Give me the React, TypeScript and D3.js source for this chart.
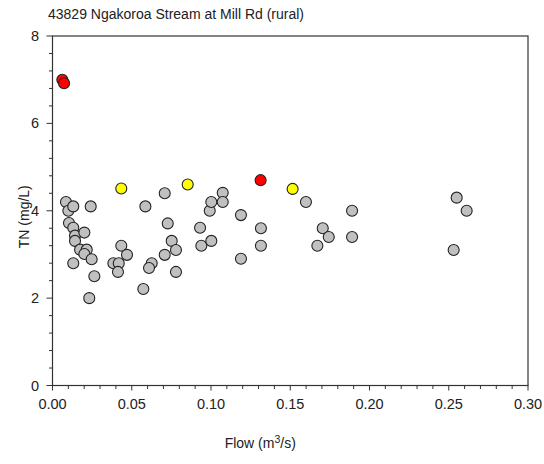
import React from "react";
import * as d3 from "d3";

const TITLE = "43829 Ngakoroa Stream at Mill Rd (rural)";
const xTicks = [0, 0.05, 0.1, 0.15, 0.2, 0.25, 0.3];
const yTicks = [0, 2, 4, 6, 8];

const grayFlow = [0.0085, 0.0100, 0.0131, 0.0241, 0.0104, 0.0131, 0.0142, 0.0142, 0.0201, 0.0174, 0.0216, 0.0201, 0.0247, 0.0131, 0.0264, 0.0232, 0.0434, 0.0470, 0.0384, 0.0418, 0.0413, 0.0586, 0.0708, 0.0727, 0.0752, 0.0779, 0.0708, 0.0626, 0.0609, 0.0779, 0.0573, 0.0931, 0.0939, 0.1002, 0.0992, 0.1002, 0.1074, 0.1074, 0.1189, 0.1315, 0.1315, 0.1189, 0.1599, 0.1705, 0.1743, 0.1671, 0.1890, 0.1890, 0.2550, 0.2613, 0.2531];
const grayTN = [4.20, 4.00, 4.10, 4.10, 3.72, 3.61, 3.43, 3.31, 3.50, 3.11, 3.11, 3.01, 2.89, 2.80, 2.50, 2.00, 3.20, 2.99, 2.80, 2.80, 2.60, 4.10, 4.40, 3.71, 3.31, 3.10, 2.99, 2.80, 2.69, 2.60, 2.21, 3.61, 3.20, 3.31, 4.00, 4.20, 4.41, 4.20, 3.90, 3.60, 3.20, 2.90, 4.20, 3.60, 3.40, 3.20, 4.00, 3.40, 4.30, 4.00, 3.10];
const yellowFlow = [0.0434, 0.0853, 0.1515];
const yellowTN = [4.51, 4.60, 4.50];
const redFlow = [0.0062, 0.0073, 0.1313];
const redTN = [7.00, 6.92, 4.70];

const W = 544, H = 464;
const L = 52.5, R = 528, T = 36, B = 385.5;
const FONT = "'Liberation Sans', Arial, sans-serif";

export default function App() {
  const x = d3.scaleLinear().domain([0, 0.3]).range([L, R]);
  const y = d3.scaleLinear().domain([0, 8]).range([B, T]);
  const xMinor = d3.range(0, 31).map((i) => i * 0.01);
  const yMinor = d3.range(0, 21).map((i) => i * 0.4);
  const pts = (fx: number[], fy: number[], fill: string, key: string) =>
    fx.map((v, i) => (
      <circle key={key + i} cx={x(v)} cy={y(fy[i])} r={5.5} fill={fill} stroke="#222" strokeWidth={1.1} />
    ));
  return (
    <svg width={W} height={H} style={{ position: "absolute", left: 0, top: 0 }} fontFamily={FONT}>
      <rect width={W} height={H} fill="#fff" />
      <text x={48} y={19} fontSize={14} fill="#222">{TITLE}</text>
      <rect x={L} y={T} width={R - L} height={B - T} fill="none" stroke="#333" strokeWidth={1.2} />
      {xMinor.map((v, i) => (
        <line key={"xm" + i} x1={x(v)} x2={x(v)} y1={B} y2={B + (i % 5 === 0 ? 5 : 3.5)} stroke="#333" strokeWidth={1} />
      ))}
      {yMinor.map((v, i) => (
        <line key={"ym" + i} y1={y(v)} y2={y(v)} x1={L} x2={L - (i % 5 === 0 ? 6 : 3.5)} stroke="#333" strokeWidth={1} />
      ))}
      {xTicks.map((v) => (
        <text key={"xt" + v} x={x(v)} y={409} textAnchor="middle" fontSize={14.5} fill="#222">{v.toFixed(2)}</text>
      ))}
      {yTicks.map((v) => (
        <text key={"yt" + v} x={39} y={y(v) + 5} textAnchor="end" fontSize={14.5} fill="#222">{v}</text>
      ))}
      <text x={(L + R) / 2 - 30} y={448} textAnchor="middle" fontSize={14} fill="#222">
        Flow (m<tspan dy={-5} fontSize={10.5}>3</tspan><tspan dy={5}>/s)</tspan>
      </text>
      <text transform={`translate(29,${(T + B) / 2 + 6}) rotate(-90)`} textAnchor="middle" fontSize={14} fill="#222">TN (mg/L)</text>
      {pts(grayFlow, grayTN, "#c0c0c0", "g")}
      {pts(yellowFlow, yellowTN, "#ffff00", "y")}
      {pts(redFlow, redTN, "#ff0000", "r")}
    </svg>
  );
}
